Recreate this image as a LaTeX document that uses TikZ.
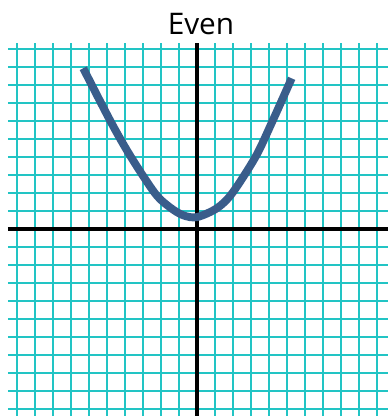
\documentclass[tikz,border=0pt]{standalone}
\usepackage{fontspec}
\setmainfont{Open Sans}
\usepackage{tikz}
\usetikzlibrary{positioning}
\usepackage{xcolor}
\definecolor{gridcyan}{HTML}{22C4C4}
\definecolor{curveblue}{HTML}{3A5D8B}
\tikzset{gridline/.style={draw=gridcyan,line width=3.2pt},axis/.style={draw=black,line width=5pt},curve/.style={draw=curveblue,line width=12.5pt},title/.style={font=\fontsize{47}{50}\selectfont,anchor=base,inner sep=0pt}}
\begin{document}
\begin{tikzpicture}[x=1cm,y=1cm]
\useasboundingbox (-10.944,-10.389) rectangle (10.611,12.722);
\foreach \i in {-10,...,10}{\draw[gridline](\i,-10.389)--(\i,10.33);}
\foreach \j in {-10,...,10}{\draw[gridline](-10.5,\j)--(10.611,\j);}
\draw[axis](-10.5,0)--(10.611,0);
\draw[axis](0,-10.389)--(0,10.33);
\draw[curve] plot[smooth,tension=0.5] coordinates {(-6.32,8.93) (-4.79,5.96) (-3.68,4.02) (-2.33,1.98) (-1.5,1.2) (-0.76,0.76) (0,0.66) (1.1,1.15) (1.95,1.98) (3.26,4.02) (4.18,5.96) (5.26,8.37)};
\node[title] (head) at (0.22,10.82) {Even};
\end{tikzpicture}
\end{document}
